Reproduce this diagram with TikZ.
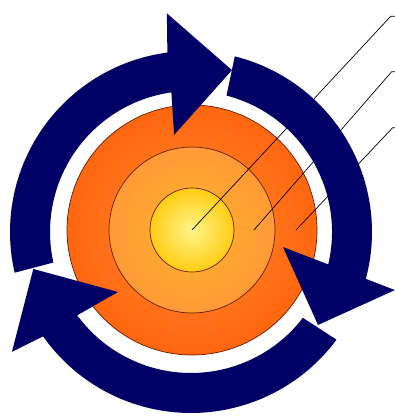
\documentclass[tikz,border=0pt]{standalone}
\definecolor{navy}{HTML}{000066}
\definecolor{rim}{HTML}{661A00}
\definecolor{lava}{HTML}{FF6610}
\definecolor{lavain}{HTML}{FF8A2A}
\definecolor{magma}{HTML}{FF9A36}
\definecolor{magmain}{HTML}{FFB22C}
\definecolor{coreedge}{HTML}{FFCC14}
\definecolor{corein}{HTML}{FFF58A}
\begin{document}
\begin{tikzpicture}[x=1pt, y=1pt,
  layer/.style={circle, draw=rim, line width=0.7pt, inner sep=0pt},
  lead/.style={line width=0.7pt},
  swirl/.style={fill=navy}]
  \useasboundingbox (0,0) rectangle (395,416);
  % layers of the disc
  \node[layer, minimum size=250pt, inner color=lavain, outer color=lava] (mantle) at (192,186) {};
  \node[layer, minimum size=166pt, inner color=magmain, outer color=magma] (shell) at (mantle.center) {};
  \node[layer, minimum size=84pt, inner color=corein, outer color=coreedge] (core) at (mantle.center) {};
  % leader lines, under the arrows
  \coordinate (p1) at (core.center);
  \coordinate (p2) at ([xshift=62pt]core.center);
  \coordinate (p3) at ([xshift=104pt]core.center);
  \coordinate (e1) at (390.7,399.7);
  \coordinate (e2) at (391.7,344.3);
  \coordinate (e3) at (392.7,288.3);
  \coordinate (f1) at (395,399.7);
  \coordinate (f2) at (395,344.3);
  \coordinate (f3) at (395,288.3);
  \draw[lead] (p1) -- (e1) -- (f1);
  \draw[lead] (p2) -- (e2) -- (f2);
  \draw[lead] (p3) -- (e3) -- (f3);
  % three arrows round the disc
  \begin{scope}[shift={(191,184)}]
    \fill[swirl] (193:181) arc[start angle=193, end angle=97.5, radius=181]
      -- (96.3:220) -- (75.8:167) -- (99.9:98.5)
      -- (98:141) arc[start angle=98, end angle=192.5, radius=141] -- cycle;
    \fill[swirl] (76:181) arc[start angle=76, end angle=-15, radius=181]
      -- (-15.9:212) -- (-36.2:157.4) -- (-9.3:93.2)
      -- (-13.3:141) arc[start angle=-13.3, end angle=75.4, radius=141] -- cycle;
    \fill[swirl] (323.5:181) arc[start angle=323.5, end angle=215.2, radius=181]
      -- (213.8:215.5) -- (193.2:162) -- (219.4:94.5)
      -- (216.2:141) arc[start angle=216.2, end angle=322.5, radius=141] -- cycle;
  \end{scope}
\end{tikzpicture}
\end{document}
